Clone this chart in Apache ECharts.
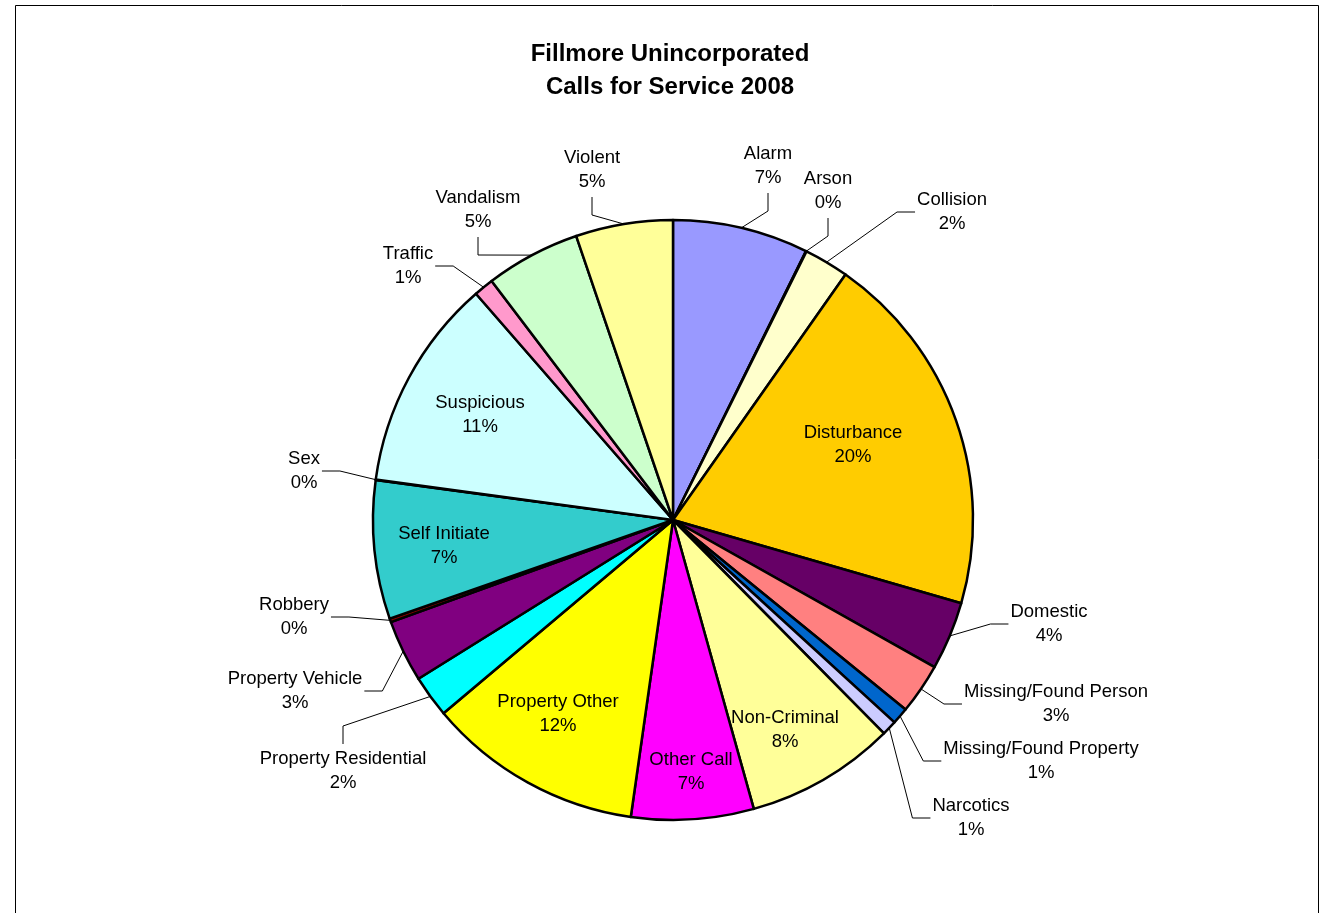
<!DOCTYPE html>
<html>
<head>
<meta charset="utf-8">
<title>Fillmore Unincorporated Calls for Service 2008</title>
<script src="https://cdn.jsdelivr.net/npm/echarts@6/dist/echarts.min.js"></script>
<style>
    html, body { margin: 0; padding: 0; background: #fff; }
    #callsPie { width: 1332px; height: 913px; }
</style>
</head>
<body>
<div id="callsPie"></div>
<script>
// call types, clockwise from 12 o'clock
var categories = ['Alarm', 'Arson', 'Collision', 'Disturbance', 'Domestic',
    'Missing/Found Person', 'Missing/Found Property', 'Narcotics', 'Non-Criminal',
    'Other Call', 'Property Other', 'Property Residential', 'Property Vehicle',
    'Robbery', 'Self Initiate', 'Sex', 'Suspicious', 'Traffic', 'Vandalism', 'Violent'];

// share of calls (%)
var shares = [7.3, 0.03, 2.41, 19.7, 3.67, 2.73, 0.9, 0.8, 8.06, 6.58,
    11.6, 2.26, 3.34, 0.2, 7.45, 0.03, 11.42, 1.07, 5.1, 5.22];

var colors = ['#9999FF', '#993366', '#FFFFCC', '#FFCC00', '#660066', '#FF8080',
    '#0066CC', '#CCCCFF', '#FFFF99', '#FF00FF', '#FFFF00', '#00FFFF', '#800080',
    '#800000', '#33CCCC', '#0000FF', '#CCFFFF', '#FF99CC', '#CCFFCC', '#FFFF99'];

// labels drawn inside their slice (no leader line)
var insideLabels = ['Disturbance', 'Non-Criminal', 'Other Call', 'Property Other', 'Self Initiate', 'Suspicious'];

// label centres and which side the leader line meets them (L/R/T/B)
var labelSpots = {
    'Alarm': [768, 166, 'B'],
    'Arson': [828, 191, 'B'],
    'Collision': [952, 212, 'L'],
    'Disturbance': [853, 445],
    'Domestic': [1049, 624, 'L'],
    'Missing/Found Person': [1056, 704, 'L'],
    'Missing/Found Property': [1041, 761, 'L'],
    'Narcotics': [971, 818, 'L'],
    'Non-Criminal': [785, 730],
    'Other Call': [691, 772],
    'Property Other': [558, 714],
    'Property Residential': [343, 771, 'T'],
    'Property Vehicle': [295, 691, 'R'],
    'Robbery': [294, 617, 'R'],
    'Self Initiate': [444, 546],
    'Sex': [304, 471, 'R'],
    'Suspicious': [480, 415],
    'Traffic': [408, 266, 'R'],
    'Vandalism': [478, 210, 'B'],
    'Violent': [592, 170, 'B']
};

var cx = 673, cy = 520, radius = 300;
var font = 'Liberation Sans, Arial, sans-serif';

(function () {
    var myChart = echarts.init(document.getElementById('callsPie'));

    var total = 0;
    shares.forEach(function (v) { total += v; });

    // point on the outer edge at the middle of slice i
    function edgePoint(i) {
        var before = 0;
        for (var k = 0; k < i; k++) before += shares[k];
        var a = (before + shares[i] / 2) / total * Math.PI * 2;
        return [cx + radius * Math.sin(a), cy - radius * Math.cos(a)];
    }

    var pieData = categories.map(function (name, i) {
        var inside = insideLabels.indexOf(name) >= 0;
        return {
            name: name,
            value: shares[i],
            itemStyle: { color: colors[i] },
            label: { position: inside ? 'inside' : 'outside' },
            labelLine: { show: !inside }
        };
    });

    var option = {
        animation: false,
        backgroundColor: '#fff',
        title: {
            text: 'Fillmore Unincorporated\nCalls for Service 2008',
            left: 670,
            textAlign: 'center',
            top: 38,
            padding: 0,
            textStyle: {
                fontFamily: font,
                fontSize: 24,
                fontWeight: 'bold',
                lineHeight: 33,
                color: '#000'
            }
        },
        graphic: [{
            type: 'rect',
            shape: { x: 15.5, y: 5.5, width: 1303, height: 1000 },
            style: { fill: 'none', stroke: '#000', lineWidth: 1 },
            silent: true
        }],
        series: [{
            name: 'Calls for Service',
            type: 'pie',
            center: [cx, cy],
            radius: radius,
            startAngle: 90,
            clockwise: true,
            avoidLabelOverlap: false,
            emphasis: { disabled: true },
            itemStyle: { borderColor: '#000', borderWidth: 2.5 },
            label: {
                color: '#000',
                fontFamily: font,
                fontSize: 18.5,
                lineHeight: 24,
                align: 'center',
                formatter: function (p) {
                    return p.name + '\n' + Math.round(p.percent) + '%';
                }
            },
            labelLine: { lineStyle: { color: '#000', width: 1 } },
            labelLayout: function (params) {
                var i = params.dataIndex;
                var spot = labelSpots[categories[i]];
                var out = { x: spot[0], y: spot[1], align: 'center', verticalAlign: 'middle' };
                if (spot[2]) {
                    var w = params.labelRect.width, h = params.labelRect.height;
                    var p0 = edgePoint(i), end, elbow;
                    if (spot[2] === 'L') {
                        end = [spot[0] - w / 2 - 2, spot[1]];
                        elbow = [end[0] - 18, end[1]];
                    } else if (spot[2] === 'R') {
                        end = [spot[0] + w / 2 + 2, spot[1]];
                        elbow = [end[0] + 18, end[1]];
                    } else if (spot[2] === 'T') {
                        end = [spot[0], spot[1] - h / 2 - 3];
                        elbow = [end[0], end[1] - 18];
                    } else {
                        end = [spot[0], spot[1] + h / 2 + 3];
                        elbow = [end[0], end[1] + 18];
                    }
                    out.labelLinePoints = [p0, elbow, end];
                }
                return out;
            },
            data: pieData
        }]
    };

    myChart.setOption(option);
})();
</script>
</body>
</html>
